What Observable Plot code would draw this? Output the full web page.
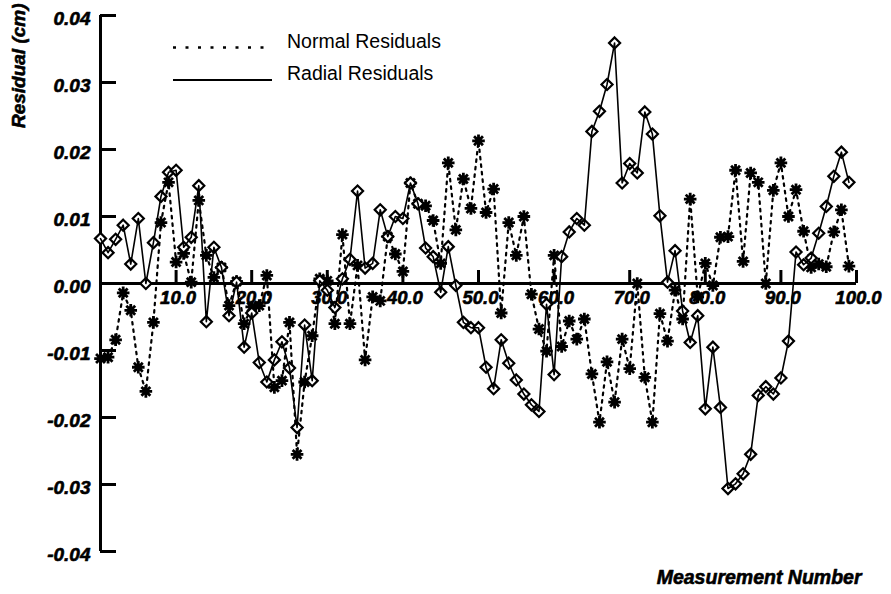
<!DOCTYPE html>
<html><head><meta charset="utf-8">
<script src="https://cdn.jsdelivr.net/npm/d3@7"></script>
<script src="https://cdn.jsdelivr.net/npm/@observablehq/plot@0.6"></script>
<style>
body{margin:0;background:#fff;}
#wrap{position:relative;width:891px;height:594px;font-family:"Liberation Sans",Arial,Helvetica,sans-serif;}
#legend{position:absolute;left:0;top:0;pointer-events:none;}
</style></head><body><div id="wrap"></div>
<script>
// ---- data ----
const normalResiduals = [
 -0.0112,-0.0110,-0.0084,-0.0014,-0.0040,-0.0125,-0.0161,-0.0058, 0.0091, 0.0151,
  0.0032, 0.0045, 0.0002, 0.0124, 0.0042, 0.0009, 0.0024,-0.0033, 0.0003,-0.0060,
 -0.0035,-0.0033, 0.0012,-0.0155,-0.0145,-0.0058,-0.0255,-0.0147,-0.0078, 0.0007,
  0.0004,-0.0060, 0.0073,-0.0060, 0.0027,-0.0114,-0.0020,-0.0026, 0.0070, 0.0044,
  0.0018, 0.0150, 0.0119, 0.0116, 0.0094, 0.0030, 0.0180, 0.0080, 0.0156, 0.0112,
  0.0213, 0.0106, 0.0141,-0.0044, 0.0091, 0.0042, 0.0100,-0.0016,-0.0068,-0.0101,
  0.0042,-0.0094,-0.0056,-0.0083,-0.0053,-0.0135,-0.0207,-0.0117,-0.0177,-0.0083,
 -0.0127, 0.0000,-0.0140,-0.0207,-0.0045,-0.0086,-0.0010,-0.0053, 0.0126,-0.0020,
  0.0030,-0.0003, 0.0069, 0.0070, 0.0169, 0.0033, 0.0165, 0.0151, 0.0000, 0.0139,
  0.0180, 0.0100, 0.0140, 0.0078, 0.0024, 0.0029, 0.0025, 0.0077, 0.0110, 0.0026
];
const radialResiduals = [
  0.0067, 0.0046, 0.0066, 0.0087, 0.0029, 0.0097, 0.0000, 0.0061, 0.0130, 0.0166,
  0.0169, 0.0054, 0.0069, 0.0146,-0.0057, 0.0054, 0.0024,-0.0048, 0.0002,-0.0095,
 -0.0044,-0.0118,-0.0147,-0.0114,-0.0087,-0.0126,-0.0215,-0.0062,-0.0145, 0.0004,
 -0.0010,-0.0036, 0.0007, 0.0036, 0.0138, 0.0023, 0.0030, 0.0110, 0.0070, 0.0100,
  0.0097, 0.0150, 0.0119, 0.0053, 0.0040,-0.0013, 0.0055,-0.0003,-0.0058,-0.0066,
 -0.0066,-0.0125,-0.0157,-0.0084,-0.0119,-0.0144,-0.0165,-0.0181,-0.0191,-0.0031,
 -0.0136, 0.0040, 0.0077, 0.0097, 0.0087, 0.0227, 0.0257, 0.0297, 0.0359, 0.0150,
  0.0179, 0.0165, 0.0256, 0.0223, 0.0101, 0.0002, 0.0049,-0.0041,-0.0088,-0.0048,
 -0.0187,-0.0095,-0.0185,-0.0306,-0.0299,-0.0284,-0.0255,-0.0167,-0.0154,-0.0165,
 -0.0141,-0.0086, 0.0047, 0.0028, 0.0038, 0.0075, 0.0115, 0.0160, 0.0196, 0.0151
];
const xTicks = [10,20,30,40,50,60,70,80,90,100];
const xTickLabels = ["10.0","20.0","30.0","40.0","50.0","60.0","70.0","80.0","90.0","100.0"];
const yTicks = [0.04,0.03,0.02,0.01,0,-0.01,-0.02,-0.03,-0.04];
const yTickLabels = ["0.04","0.03","0.02","0.01","0.00","-0.01","-0.02","-0.03","-0.04"];
const seriesNames = ["Normal Residuals","Radial Residuals"];
const xTitle = "Measurement Number";
const yTitle = "Residual (cm)";

// ---- build ----
const measurementNumber = radialResiduals.map((_, i) => i);
const normalData = normalResiduals.map((v, i) => ({x: measurementNumber[i], y: v}));
const radialData = radialResiduals.map((v, i) => ({x: measurementNumber[i], y: v}));

const W = 891, H = 594, mL = 100, mR = 35, mT = 15, mB = 43;
const font = "'Liberation Sans', Arial, Helvetica, sans-serif";

// 8-spoke asterisk symbol
const star8 = {
  draw(context, size) {
    const r = Math.sqrt(size / Math.PI);
    for (let k = 0; k < 4; k++) {
      const a = k * Math.PI / 4;
      const dx = r * Math.cos(a), dy = r * Math.sin(a);
      context.moveTo(-dx, -dy);
      context.lineTo(dx, dy);
    }
  }
};

const y = d3.scaleLinear().domain([-0.04, 0.04]).range([H - mB, mT]);
const zeroPx = y(0);
const boldText = {fontWeight: "bold", fontStyle: "italic", fill: "#000", stroke: "#000", strokeWidth: 0.6};

const chart = Plot.plot({
  width: W, height: H,
  marginLeft: mL, marginRight: mR, marginTop: mT, marginBottom: mB,
  style: {fontFamily: font, background: "#fff", color: "#000", overflow: "visible"},
  x: {domain: [0, 100], axis: null},
  y: {domain: [-0.04, 0.04], axis: null},
  marks: [
    // axes
    Plot.ruleX([0], {stroke: "#000", strokeWidth: 3}),
    Plot.ruleY([0], {stroke: "#000", strokeWidth: 3}),
    Plot.tickY(yTicks, {y: d => d, stroke: "#000", strokeWidth: 3, insetRight: (W - mL - mR) - 16}),
    Plot.tickX(xTicks, {x: d => d, stroke: "#000", strokeWidth: 3,
      insetTop: (zeroPx - mT) - 13, insetBottom: (H - mB) - zeroPx}),
    Plot.text(yTicks, {y: d => d, frameAnchor: "left", text: (d, i) => yTickLabels[i],
      textAnchor: "end", dx: -10, dy: 3, fontSize: 19, ...boldText}),
    Plot.text(xTicks, {x: d => d, y: 0, text: (d, i) => xTickLabels[i],
      lineAnchor: "top", dx: 2, dy: 7, fontSize: 18.5, ...boldText}),
    Plot.text([yTitle], {frameAnchor: "top-left", text: d => d, rotate: -90, textAnchor: "end",
      lineAnchor: "middle", dx: -82, dy: -12, fontSize: 19, ...boldText}),
    Plot.text([xTitle], {frameAnchor: "bottom-right", text: d => d, textAnchor: "end",
      lineAnchor: "middle", dx: 5, dy: 26, fontSize: 19.5, ...boldText}),
    // normal residuals
    Plot.line(normalData, {x: "x", y: "y", stroke: "#000", strokeWidth: 2.2, strokeDasharray: "2.5,5"}),
    Plot.dot(normalData, {x: "x", y: "y", symbol: star8, r: 6.3, stroke: "#000", strokeWidth: 2.8, fill: "none"}),
    // radial residuals
    Plot.dot(radialData, {x: "x", y: "y", symbol: "diamond2", r: 5, stroke: "#000", strokeWidth: 2.2, fill: "#fff"}),
    Plot.line(radialData, {x: "x", y: "y", stroke: "#000", strokeWidth: 1.6})
  ]
});

const wrap = document.getElementById("wrap");
wrap.appendChild(chart);

// legend overlay
const ns = "http://www.w3.org/2000/svg";
const leg = document.createElementNS(ns, "svg");
leg.setAttribute("id", "legend");
leg.setAttribute("width", W);
leg.setAttribute("height", 110);
const samples = [
  {dash: "3,9.5", width: 2.5, y: 47.5, x2: 268},
  {dash: null, width: 2, y: 80, x2: 272}
];
seriesNames.forEach((name, i) => {
  const s = samples[i];
  const ln = document.createElementNS(ns, "line");
  ln.setAttribute("x1", 173); ln.setAttribute("x2", s.x2);
  ln.setAttribute("y1", s.y); ln.setAttribute("y2", s.y);
  ln.setAttribute("stroke", "#000"); ln.setAttribute("stroke-width", s.width);
  if (s.dash) ln.setAttribute("stroke-dasharray", s.dash);
  leg.appendChild(ln);
  const tx = document.createElementNS(ns, "text");
  tx.setAttribute("x", 287); tx.setAttribute("y", s.y);
  tx.setAttribute("font-family", font);
  tx.setAttribute("font-size", 19.5);
  tx.textContent = name;
  leg.appendChild(tx);
});
wrap.appendChild(leg);
</script>
</body></html>
